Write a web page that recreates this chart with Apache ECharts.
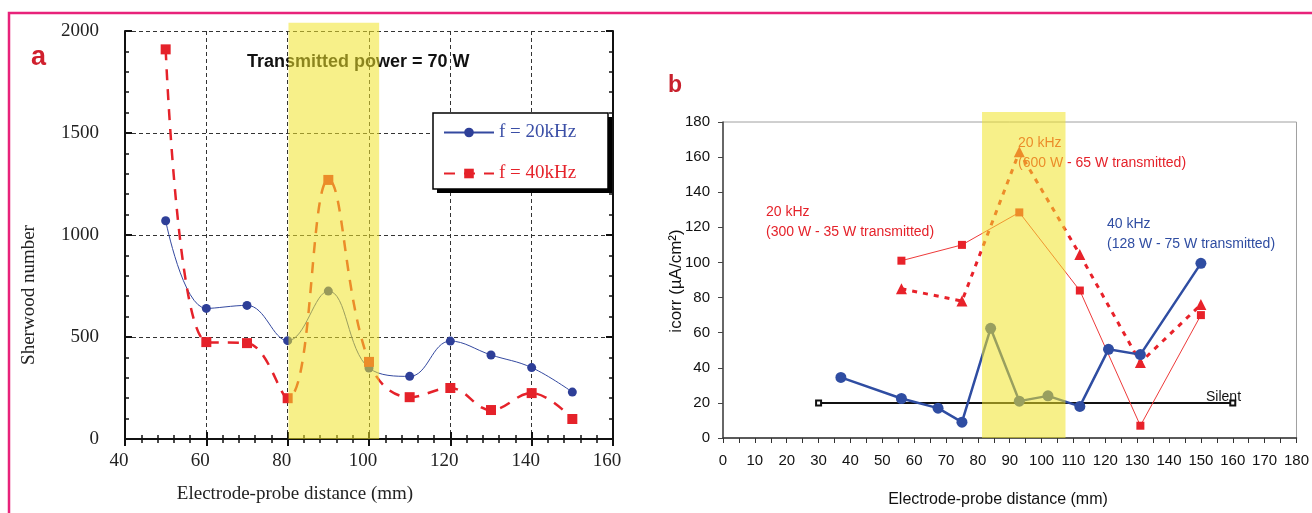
<!DOCTYPE html>
<html>
<head>
<meta charset="utf-8">
<script src="https://cdn.jsdelivr.net/npm/echarts@6/dist/echarts.min.js"></script>
<style>
html,body{margin:0;padding:0;background:#fff;}
#c{width:1312px;height:513px;}
</style>
</head>
<body>
<div id="c"></div>
<script>
// ---- Panel a data ----
const distA = [50, 60, 70, 80, 90, 100, 110, 120, 130, 140, 150];
const sher20 = [1070, 640, 655, 482, 725, 348, 307, 480, 412, 350, 230];
const sher40 = [1910, 475, 470, 200, 1270, 378, 205, 250, 142, 225, 98];
const bandA = [80.2, 102.5];

// ---- Panel b data ----
const dist40 = [37, 56, 67.5, 75, 84, 93, 102, 112, 121, 131, 150];
const icorr40 = [34.5, 22.5, 17, 9, 62.5, 21, 24, 18, 50.5, 47.5, 99.5];
const dist20 = [56, 75, 93, 112, 131, 150];
const icorr20low = [101, 110, 128.5, 84, 7, 70];
const icorr20high = [85, 78, 163, 104.5, 43, 76];
const silentX = [30, 160];
const silentY = [20, 20];
const bandB = [81.3, 107.5];

const SERIF = 'Liberation Serif';
const SANS = 'Liberation Sans';
const RED = '#e5222a';
const BLUE_A = '#3449a0';
const BLUE_B = '#2f4da2';

function pairs(xs, ys) { return xs.map((x, i) => [x, ys[i]]); }
const plain = v => String(v);

const chart = echarts.init(document.getElementById('c'), null, {renderer: 'canvas'});

const gridLine = {show: true, lineStyle: {color: '#333', width: 1, type: [4, 3]}};

const option = {
  animation: false,
  backgroundColor: '#fff',
  grid: [
    {left: 125, top: 31, width: 488, height: 408, show: false},
    {left: 723, top: 122, width: 576, height: 316, show: true, borderColor: '#a0a0a0', borderWidth: 1, backgroundColor: 'transparent'}
  ],
  xAxis: [
    {gridIndex: 0, type: 'value', min: 40, max: 160, interval: 20, position: 'bottom',
     axisLine: {show: true, lineStyle: {color: '#111', width: 2}},
     axisTick: {show: true, inside: true, length: 7, lineStyle: {color: '#111', width: 2}},
     minorTick: {show: true, splitNumber: 5, length: 4, lineStyle: {color: '#111', width: 1.5}},
     axisLabel: {fontFamily: SERIF, fontSize: 19, color: '#222', margin: 13, padding: [0, 12, 0, 0], formatter: plain},
     splitLine: gridLine},
    {gridIndex: 0, type: 'value', min: 40, max: 160, interval: 20, position: 'top',
     axisLine: {show: true, lineStyle: {color: '#111', width: 2}},
     axisTick: {show: true, inside: true, length: 7, lineStyle: {color: '#111', width: 2}},
     minorTick: {show: true, splitNumber: 5, length: 4, lineStyle: {color: '#111', width: 1.5}},
     axisLabel: {show: false}, splitLine: {show: false}},
    {gridIndex: 1, type: 'value', min: 0, max: 180, interval: 10, position: 'bottom',
     axisLine: {show: true, lineStyle: {color: '#333', width: 1.5}},
     axisTick: {show: true, length: 5, lineStyle: {color: '#333', width: 1}},
     minorTick: {show: true, splitNumber: 2, length: 5, lineStyle: {color: '#333', width: 1}},
     axisLabel: {fontFamily: SANS, fontSize: 15, color: '#111', margin: 15, formatter: plain},
     splitLine: {show: false}}
  ],
  yAxis: [
    {gridIndex: 0, type: 'value', min: 0, max: 2000, interval: 500, position: 'left',
     axisLine: {show: true, lineStyle: {color: '#111', width: 2}},
     axisTick: {show: true, inside: true, length: 7, lineStyle: {color: '#111', width: 2}},
     minorTick: {show: true, splitNumber: 5, length: 4, lineStyle: {color: '#111', width: 1.5}},
     axisLabel: {fontFamily: SERIF, fontSize: 19, color: '#222', margin: 26, formatter: plain},
     splitLine: gridLine},
    {gridIndex: 0, type: 'value', min: 0, max: 2000, interval: 500, position: 'right',
     axisLine: {show: true, lineStyle: {color: '#111', width: 2}},
     axisTick: {show: true, inside: true, length: 7, lineStyle: {color: '#111', width: 2}},
     minorTick: {show: true, splitNumber: 5, length: 4, lineStyle: {color: '#111', width: 1.5}},
     axisLabel: {show: false}, splitLine: {show: false}},
    {gridIndex: 1, type: 'value', min: 0, max: 180, interval: 20, position: 'left',
     axisLine: {show: true, lineStyle: {color: '#444', width: 1.5}},
     axisTick: {show: true, length: 5, lineStyle: {color: '#444', width: 1}},
     axisLabel: {fontFamily: SANS, fontSize: 15, color: '#111', margin: 13, formatter: plain},
     splitLine: {show: false}}
  ],
  legend: {
    left: 433, top: 113, orient: 'vertical', z: 10,
    itemWidth: 50, itemHeight: 12, itemGap: 22, itemTextGap: 6,
    padding: [10, 31, 8, 10],
    textStyle: {fontFamily: SERIF, fontSize: 19},
    data: [
      {name: 'f = 20kHz', textStyle: {color: '#3a4ea6'}},
      {name: 'f = 40kHz', textStyle: {color: '#e5222a'}}
    ]
  },
  series: [
    {name: 'f = 20kHz', type: 'line', xAxisIndex: 0, yAxisIndex: 0, smooth: 0.4,
     data: pairs(distA, sher20), symbol: 'circle', symbolSize: 9,
     lineStyle: {color: BLUE_A, width: 1}, itemStyle: {color: '#2e3f98'}, z: 3},
    {name: 'f = 40kHz', type: 'line', xAxisIndex: 0, yAxisIndex: 0, smooth: 0.4,
     data: pairs(distA, sher40), symbol: 'rect', symbolSize: 10,
     lineStyle: {color: RED, width: 2.5, type: [11, 9]}, itemStyle: {color: RED}, z: 3},
    {name: 'silent', type: 'line', xAxisIndex: 2, yAxisIndex: 2,
     data: pairs(silentX, silentY), symbol: 'emptyRect', symbolSize: 5,
     lineStyle: {color: '#111', width: 2}, itemStyle: {color: '#111', borderWidth: 1}, z: 2},
    {name: 'b20low', type: 'line', xAxisIndex: 2, yAxisIndex: 2,
     data: pairs(dist20, icorr20low), symbol: 'rect', symbolSize: 8,
     lineStyle: {color: '#ee3a3a', width: 1}, itemStyle: {color: '#e8222a'}, z: 3},
    {name: 'b20high', type: 'line', xAxisIndex: 2, yAxisIndex: 2,
     data: pairs(dist20, icorr20high), symbol: 'triangle', symbolSize: 11,
     lineStyle: {color: '#e8222a', width: 3, type: [5, 6]}, itemStyle: {color: '#e8222a'}, z: 3},
    {name: 'b40', type: 'line', xAxisIndex: 2, yAxisIndex: 2,
     data: pairs(dist40, icorr40), symbol: 'circle', symbolSize: 11,
     lineStyle: {color: BLUE_B, width: 2.5}, itemStyle: {color: BLUE_B}, z: 4}
  ]
};

chart.setOption(option);

const a1 = chart.convertToPixel({xAxisIndex: 0, yAxisIndex: 0}, [bandA[0], 2040]);
const a2 = chart.convertToPixel({xAxisIndex: 0, yAxisIndex: 0}, [bandA[1], 0]);
const b1 = chart.convertToPixel({xAxisIndex: 2, yAxisIndex: 2}, [bandB[0], 185.7]);
const b2 = chart.convertToPixel({xAxisIndex: 2, yAxisIndex: 2}, [bandB[1], 0]);

const YELLOW = 'rgba(240,228,40,0.55)';

function txt(x, y, s, font, color, align) {
  return {type: 'text', x: x, y: y, z: 5,
    style: {text: s, font: font, fill: color, textAlign: align || 'left', textVerticalAlign: 'middle'}};
}

chart.setOption({
  graphic: [
    {type: 'rect', z: 1, shape: {x: 9, y: 13, width: 1330, height: 530},
     style: {fill: 'none', stroke: '#e8227a', lineWidth: 2.5}},
    // legend box with hard shadow
    {type: 'rect', z: 6, shape: {x: 437, y: 117, width: 175, height: 76}, style: {fill: '#000'}},
    {type: 'rect', z: 7, shape: {x: 433, y: 113, width: 175, height: 76},
     style: {fill: '#fff', stroke: '#000', lineWidth: 1.5}},
    txt(31, 58, 'a', 'bold 27px ' + SANS, '#d0202e'),
    txt(668, 86, 'b', 'bold 23px ' + SANS, '#c8202c'),
    txt(247, 62, 'Transmitted power = 70 W', 'bold 18px ' + SANS, '#111'),
    txt(295, 494, 'Electrode-probe distance (mm)', '19px ' + SERIF, '#222', 'center'),
    {type: 'text', x: 29, y: 295, rotation: Math.PI / 2, z: 5,
     style: {text: 'Sherwood number', font: '19px ' + SERIF, fill: '#222', textAlign: 'center', textVerticalAlign: 'middle'}},
    {type: 'text', x: 676, y: 281, rotation: Math.PI / 2, z: 5,
     style: {text: 'icorr (µA/cm²)', font: '17px ' + SANS, fill: '#111', textAlign: 'center', textVerticalAlign: 'middle'}},
    txt(998, 500, 'Electrode-probe distance (mm)', '16px ' + SANS, '#111', 'center'),
    txt(766, 212, '20 kHz', '14px ' + SANS, RED),
    txt(766, 232, '(300 W - 35 W transmitted)', '14px ' + SANS, RED),
    txt(1018, 143, '20 kHz', '14px ' + SANS, RED),
    txt(1018, 163, '(600 W - 65 W transmitted)', '14px ' + SANS, RED),
    txt(1107, 224, '40 kHz', '14px ' + SANS, BLUE_B),
    txt(1107, 244, '(128 W - 75 W transmitted)', '14px ' + SANS, BLUE_B),
    txt(1206, 397, 'Silent', '14px ' + SANS, '#111'),
    {type: 'rect', z: 50, shape: {x: a1[0], y: a1[1], width: a2[0] - a1[0], height: a2[1] - a1[1]},
     style: {fill: YELLOW}},
    {type: 'rect', z: 50, shape: {x: b1[0], y: b1[1], width: b2[0] - b1[0], height: b2[1] - b1[1]},
     style: {fill: YELLOW}}
  ]
});
</script>
</body>
</html>
